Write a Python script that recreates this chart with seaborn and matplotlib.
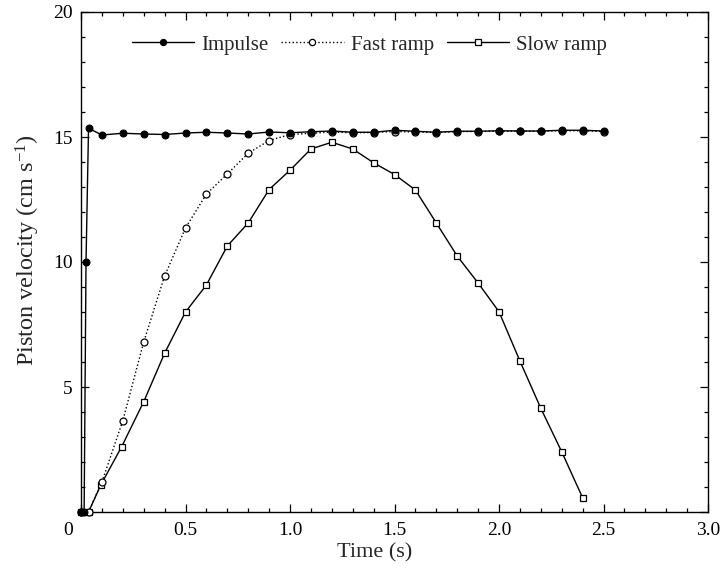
import numpy as np
import pandas as pd
import seaborn as sns
import matplotlib.pyplot as plt
import matplotlib.transforms as mtransforms
from matplotlib.ticker import MultipleLocator

# values
impulse_t = [0.0, 0.015, 0.024, 0.036, 0.1, 0.2, 0.3, 0.4, 0.5, 0.6, 0.7, 0.8, 0.9,
             1.0, 1.1, 1.2, 1.3, 1.4, 1.5, 1.6, 1.7, 1.8, 1.9, 2.0, 2.1, 2.2, 2.3, 2.4, 2.5]
impulse_v = [0.0, 0.0, 10.0, 15.35, 15.08, 15.15, 15.12, 15.1, 15.16, 15.19, 15.16, 15.12, 15.2,
             15.17, 15.21, 15.24, 15.19, 15.19, 15.27, 15.23, 15.19, 15.23, 15.23, 15.25, 15.24,
             15.24, 15.27, 15.27, 15.24]

fast_t = [0.0, 0.036, 0.1, 0.2, 0.3, 0.4, 0.5, 0.6, 0.7, 0.8, 0.9, 1.0, 1.1, 1.2, 1.3,
          1.4, 1.5, 1.6, 1.7, 1.8, 1.9, 2.0, 2.1, 2.2, 2.3, 2.4, 2.5]
fast_v = [0.0, 0.0, 1.2, 3.65, 6.8, 9.44, 11.36, 12.72, 13.52, 14.35, 14.86, 15.1, 15.15,
          15.2, 15.17, 15.18, 15.22, 15.2, 15.18, 15.22, 15.22, 15.23, 15.23, 15.23, 15.25,
          15.25, 15.22]

slow_t = [0.0, 0.036, 0.094, 0.195, 0.3, 0.4, 0.5, 0.6, 0.7, 0.8, 0.9, 1.0, 1.1, 1.2,
          1.3, 1.4, 1.5, 1.6, 1.7, 1.8, 1.9, 2.0, 2.1, 2.2, 2.3, 2.4]
slow_v = [0.0, 0.0, 1.07, 2.62, 4.41, 6.35, 8.0, 9.08, 10.64, 11.56, 12.9, 13.67, 14.52,
          14.79, 14.52, 13.97, 13.5, 12.88, 11.56, 10.24, 9.16, 8.01, 6.04, 4.15, 2.41, 0.57]

sns.set_style("ticks")
plt.rcParams["font.family"] = ["Liberation Serif", "DejaVu Serif"]
plt.rcParams["mathtext.fontset"] = "custom"
plt.rcParams["mathtext.rm"] = "Liberation Serif"
plt.rcParams["mathtext.default"] = "regular"

fig = plt.figure(figsize=(7.22, 5.75), dpi=100)
ax = fig.add_axes([81 / 722, 63 / 575, 627 / 722, 500 / 575])

impulse = pd.DataFrame({"t": impulse_t, "v": impulse_v})
fast = pd.DataFrame({"t": fast_t, "v": fast_v})
slow = pd.DataFrame({"t": slow_t, "v": slow_v})

common = dict(x="t", y="v", ax=ax, color="black", estimator=None, sort=False,
              linewidth=1.0, markersize=5, clip_on=False)

sns.lineplot(data=slow, label="Slow ramp", marker="s", markerfacecolor="white",
             markeredgecolor="black", markeredgewidth=0.9, linestyle="-", zorder=3, **common)
sns.lineplot(data=fast, label="Fast ramp", marker="o", markerfacecolor="white",
             markeredgecolor="black", markeredgewidth=0.9, linestyle=":", zorder=4, **common)
sns.lineplot(data=impulse, label="Impulse", marker="o", markerfacecolor="black",
             markeredgecolor="black", linestyle="-", zorder=5, **common)

ax.set_xlim(0, 3.0)
ax.set_ylim(0, 20)
ax.set_xticks([0, 0.5, 1.0, 1.5, 2.0, 2.5, 3.0])
ax.set_xticklabels(["0", "0.5", "1.0", "1.5", "2.0", "2.5", "3.0"])
ax.set_yticks([0, 5, 10, 15, 20])
ax.set_yticklabels(["", "5", "10", "15", "20"])
ax.xaxis.set_minor_locator(MultipleLocator(0.1))
ax.yaxis.set_minor_locator(MultipleLocator(1))
ax.tick_params(which="both", direction="in", top=True, right=True, width=0.9, colors="black")
ax.tick_params(which="major", length=6, labelsize=14)
ax.tick_params(which="minor", length=3)
ax.tick_params(axis="x", pad=7)
ax.tick_params(axis="y", pad=6)

# the origin "0" sits left of the corner
lab0 = ax.get_xticklabels()[0]
lab0.set_transform(lab0.get_transform() + mtransforms.ScaledTranslation(-13 / 100, 0, fig.dpi_scale_trans))

for sp in ax.spines.values():
    sp.set_linewidth(1.0)
    sp.set_color("black")

ax.set_xlabel("Time (s)", fontsize=16, labelpad=3, x=0.469)
ax.set_ylabel("Piston velocity (cm s$^{-1}$)", fontsize=17.5, labelpad=8, y=0.524)

handles, labels = ax.get_legend_handles_labels()
order = [labels.index(n) for n in ["Impulse", "Fast ramp", "Slow ramp"]]
ax.legend([handles[i] for i in order], [labels[i] for i in order],
          loc="center", bbox_to_anchor=(0.46, 0.934), ncol=3, frameon=False,
          fontsize=15, handlelength=3.0, handletextpad=0.35, columnspacing=0.6,
          markerscale=0.9)

fig.savefig("out.png", dpi=100)
